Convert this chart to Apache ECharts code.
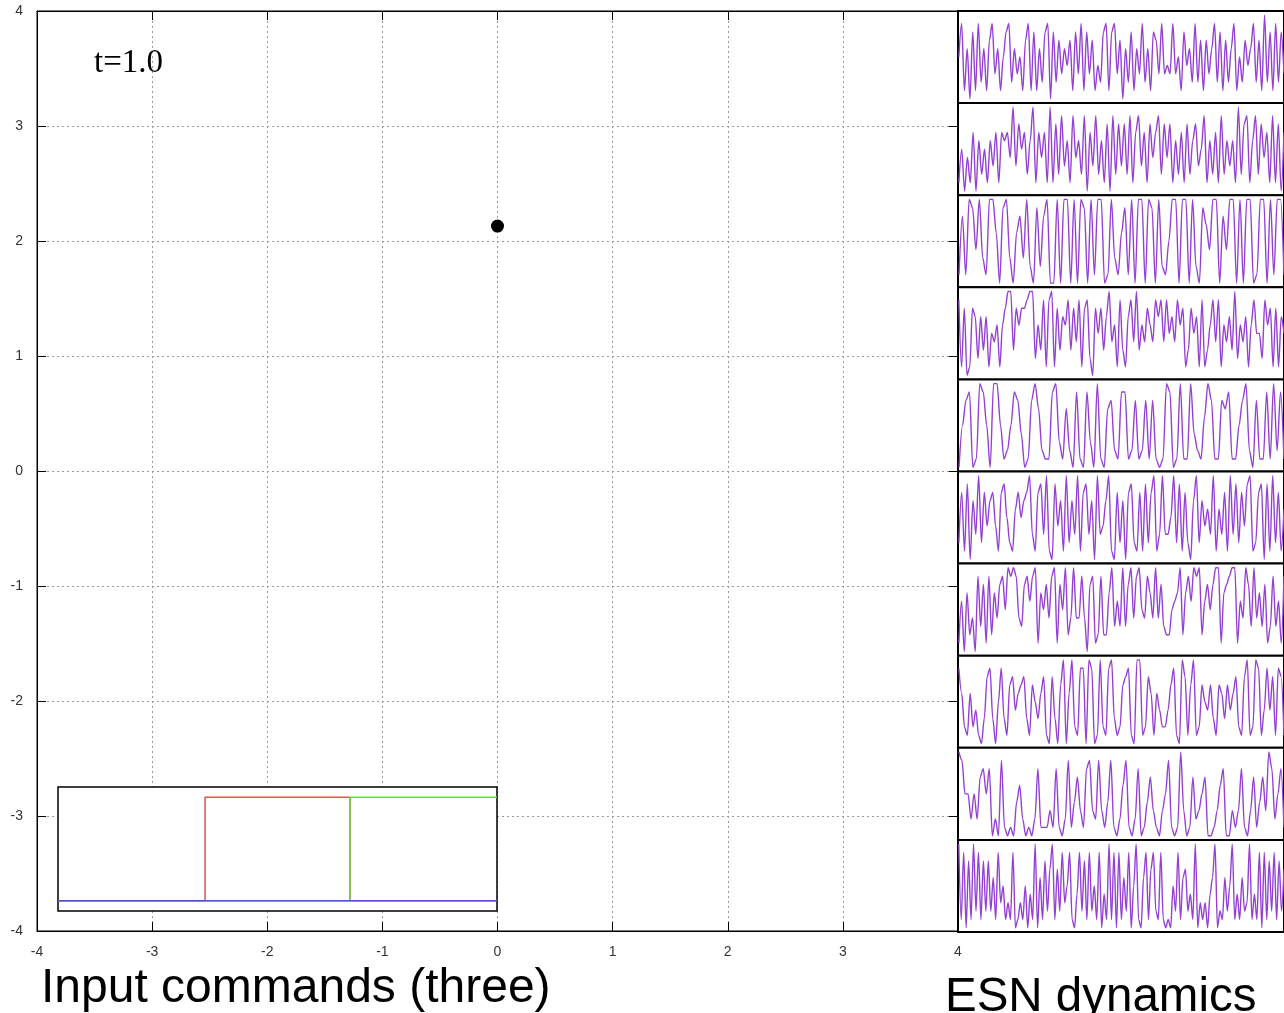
<!DOCTYPE html>
<html>
<head>
<meta charset="utf-8">
<script src="https://cdn.jsdelivr.net/npm/echarts@6/dist/echarts.min.js"></script>
<style>
html,body{margin:0;padding:0;background:#fff;}
#chart{width:1284px;height:1013px;}
</style>
</head>
<body>
<div id="chart"></div>
<script>
// ---- data ----
const xTicks = [-4, -3, -2, -1, 0, 1, 2, 3, 4];
const yTicks = [-4, -3, -2, -1, 0, 1, 2, 3, 4];
const agentPos = [0, 2.13];
const timeLabel = 't=1.0';
const cmdTimes = [0, 0.335, 0.665, 1.0];
const cmdRed = [0, 1, 0];
const cmdGreen = [0, 0, 1];
const cmdBlue = [0, 0, 0];
const p1 = [5,9,1,6,0,8,1,9,2,6,1,7,9,3,6,1,5,8,9,2,6,3,5,1,7,9,1,8,1,6,2,8,9,0,8,2,7,3,6,4,7,1,8,3,9,1,8,3,7,1,4,2,8,9,1,8,9,3,7,0,6,2,8,1,6,3,9,2,6,1,8,7,3,9,3,4,3,9,3,5,1,8,4,6,2,9,2,7,1,7,3,6,9,2,8,1,7,2,6,9,1,5,2,7,4,6,9,2,7,1,10,2,8,1,9,2,8,3];
const p2 = [1,5,0,4,1,7,0,6,2,5,1,6,3,7,1,7,6,7,4,10,3,8,5,7,2,6,10,1,7,4,7,1,10,1,8,2,9,3,6,1,9,4,6,2,9,0,7,3,9,2,6,1,8,0,9,2,8,3,8,2,9,1,7,9,3,7,1,8,4,7,9,2,8,4,8,1,6,2,7,1,8,2,6,8,3,5,9,1,6,2,7,1,9,2,6,3,6,1,10,2,8,9,1,6,9,2,8,4,7,1,9,1,8,0,7];
const p3 = [1,8,1,10,9,4,10,3,1,10,10,6,0,9,10,3,0,6,8,3,10,2,0,9,2,8,10,0,0,10,0,10,10,0,10,0,10,9,0,10,1,10,10,0,1,10,3,1,6,9,1,10,0,10,10,0,10,9,0,10,2,1,5,10,10,0,10,10,0,10,2,0,9,7,4,10,10,0,8,4,10,10,0,10,0,10,10,0,1,10,10,0,10,1,10,10,1];
const p4 = [9,1,8,0,1,8,7,2,7,3,7,1,5,4,6,1,6,8,10,10,3,8,6,8,8,9,10,10,2,6,3,9,1,9,10,1,8,3,7,6,9,3,8,4,9,1,8,9,2,0,8,5,8,3,7,10,4,6,1,9,3,1,7,9,4,10,3,6,4,8,6,4,9,7,9,4,9,5,7,4,9,6,8,1,3,8,5,7,1,9,1,3,6,9,4,9,1,6,4,7,3,10,2,6,4,7,1,6,9,5,5,2,9,6,8,1,8,1,7,5];
const p5 = [0,5,8,9,0,1,10,9,5,0,10,10,5,1,2,5,9,8,4,0,1,8,10,7,2,1,1,9,10,3,1,7,2,0,9,1,0,9,3,0,10,1,0,7,8,2,1,9,9,1,2,8,1,2,8,1,8,1,0,1,10,9,0,1,10,1,1,10,4,2,1,6,10,8,1,1,8,7,9,1,1,5,8,10,2,0,8,1,1,9,1,10,2,9,1];
const p6 = [2,8,1,9,0,7,3,10,2,8,4,7,8,4,1,8,9,5,2,1,6,8,5,7,8,10,3,1,8,9,3,10,1,0,9,4,7,1,10,2,7,3,10,1,8,9,3,7,0,10,3,4,7,10,1,0,8,2,7,0,8,9,2,1,8,1,9,2,8,10,1,3,10,3,3,5,10,2,9,1,8,2,0,7,10,2,7,4,6,3,10,1,6,3,8,1,10,3,9,2,8,4,9,10,1,2,8,9,0,9,1,10,2,8,1,6];
const p7 = [1,6,0,7,2,4,0,9,3,8,1,9,2,7,4,8,9,5,10,9,10,9,4,3,8,9,6,9,10,1,7,5,8,4,9,10,1,8,5,10,2,4,10,4,4,9,4,0,8,9,1,2,9,2,2,7,10,3,6,3,10,3,8,10,4,9,10,5,4,9,7,4,10,4,8,3,2,2,5,6,7,10,2,7,9,6,10,9,10,2,6,8,5,8,10,10,1,7,8,9,10,10,1,6,4,10,8,3,10,4,7,3,8,1,3,9,3,6,1,9];
const p8 = [9,6,2,1,6,2,4,1,0,3,8,9,3,0,5,9,3,1,7,8,4,6,7,8,3,1,7,5,3,6,8,1,0,8,3,0,7,10,0,6,10,2,1,9,9,0,10,9,0,1,10,2,1,9,10,3,1,2,7,8,9,1,0,10,10,1,2,8,6,1,6,4,2,2,4,7,9,1,0,10,8,1,7,10,1,2,7,5,4,7,3,1,7,6,3,7,4,6,8,2,1,8,10,1,2,10,9,1,4,9,4,8,1,9,8,1];
const p9 = [10,9,5,5,2,5,2,7,8,5,8,0,2,0,9,1,0,1,0,4,6,2,0,1,0,2,8,1,1,1,3,1,8,1,0,2,9,1,4,7,3,1,8,9,3,2,9,3,1,4,9,1,0,2,6,9,1,0,2,8,0,1,4,7,3,1,0,3,5,9,1,0,1,10,3,0,1,7,2,3,5,7,0,0,1,3,6,8,0,0,3,1,3,8,1,0,3,7,1,4,7,3,10,8,2,5,8,1];
const p10 = [10,1,9,0,8,1,10,2,9,1,8,2,8,2,6,1,9,3,5,1,3,1,9,0,1,3,1,5,0,4,1,10,0,6,1,8,2,7,10,1,7,2,9,3,5,9,1,0,4,9,2,8,1,9,2,5,1,9,0,4,1,10,1,9,0,9,1,6,2,9,0,5,10,1,0,6,9,1,7,9,2,1,9,1,0,1,0,5,2,9,1,6,7,2,4,1,10,0,3,1,3,0,4,6,10,0,2,1,6,2,5,10,1,4,1,6,2,3,10,1,4,1,9,0,9,1,8,2,9,1,8,2,7];
const esnPanels = [p1, p2, p3, p4, p5, p6, p7, p8, p9, p10];

// ---- build ----
function stepPoints(times, vals) {
  const pts = [];
  for (let i = 0; i < vals.length; i++) {
    pts.push([times[i], vals[i]]);
    pts.push([times[i + 1], vals[i]]);
  }
  return pts;
}

const labelFont = { fontFamily: 'Liberation Sans', fontSize: 14, color: '#333' };
const grids = [];
const xAxes = [];
const yAxes = [];
const series = [];

// main grid (0)
grids.push({ left: 37, top: 11, width: 921, height: 920, show: true, borderColor: '#000', borderWidth: 1, containLabel: false });
xAxes.push({ gridIndex: 0, type: 'value', min: -4, max: 4, interval: 1, position: 'bottom',
  axisLine: { show: true, onZero: false, lineStyle: { color: '#000', width: 1 } },
  axisTick: { show: true, inside: true, length: 9, lineStyle: { color: '#000' } },
  axisLabel: Object.assign({ margin: 14 }, labelFont),
  splitLine: { show: true, lineStyle: { color: '#9a9a9a', type: [2, 3], width: 1 } } });
xAxes.push({ gridIndex: 0, type: 'value', min: -4, max: 4, interval: 1, position: 'top',
  axisLine: { show: true, onZero: false, lineStyle: { color: '#000' } },
  axisTick: { show: true, inside: true, length: 9, lineStyle: { color: '#000' } },
  axisLabel: { show: false }, splitLine: { show: false } });
yAxes.push({ gridIndex: 0, type: 'value', min: -4, max: 4, interval: 1, position: 'left',
  axisLine: { show: true, onZero: false, lineStyle: { color: '#000' } },
  axisTick: { show: true, inside: true, length: 9, lineStyle: { color: '#000' } },
  axisLabel: Object.assign({ margin: 14 }, labelFont),
  splitLine: { show: true, lineStyle: { color: '#9a9a9a', type: [2, 3], width: 1 } } });
yAxes.push({ gridIndex: 0, type: 'value', min: -4, max: 4, interval: 1, position: 'right',
  axisLine: { show: true, onZero: false, lineStyle: { color: '#000' } },
  axisTick: { show: true, inside: true, length: 9, lineStyle: { color: '#000' } },
  axisLabel: { show: false }, splitLine: { show: false } });
series.push({ type: 'scatter', xAxisIndex: 0, yAxisIndex: 0, data: [agentPos], symbolSize: 13,
  itemStyle: { color: '#000', opacity: 1 }, z: 10 });

// inset grid (1)
grids.push({ left: 58, top: 787, width: 439, height: 124, show: true, backgroundColor: '#fff', borderColor: '#000', borderWidth: 1.5, z: 5 });
xAxes.push({ gridIndex: 1, type: 'value', min: 0, max: 1, show: false, z: 6 });
yAxes.push({ gridIndex: 1, type: 'value', min: -0.1, max: 1.1, show: false, z: 6 });
[[cmdRed, '#d9584c'], [cmdGreen, '#5fe03c'], [cmdBlue, '#5a4fcf']].forEach(function (c) {
  series.push({ type: 'line', xAxisIndex: 2, yAxisIndex: 2, data: stepPoints(cmdTimes, c[0]),
    showSymbol: false, symbol: 'none', lineStyle: { color: c[1], width: 1.5 }, z: 7, silent: true });
});

// ESN panels
const panelH = 92.1;
esnPanels.forEach(function (vals, i) {
  const gi = grids.length;
  grids.push({ left: 958, top: 11 + panelH * i, width: 332, height: panelH, show: true, borderColor: '#000', borderWidth: 2, backgroundColor: '#fff' });
  xAxes.push({ gridIndex: gi, type: 'value', min: -0.3, max: vals.length - 1, show: false });
  yAxes.push({ gridIndex: gi, type: 'value', min: -0.5, max: 10.5, show: false });
  series.push({ type: 'line', xAxisIndex: xAxes.length - 1, yAxisIndex: yAxes.length - 1,
    data: vals.map(function (v, k) { return [k, v]; }), showSymbol: false, symbol: 'none',
    smooth: 0.3, smoothMonotone: 'x',
    lineStyle: { color: '#9440d2', width: 1.4 }, silent: true });
});

const chart = echarts.init(document.getElementById('chart'), null, { renderer: 'canvas' });
chart.setOption({
  animation: false,
  backgroundColor: '#fff',
  grid: grids,
  xAxis: xAxes,
  yAxis: yAxes,
  series: series,
  graphic: [
    { type: 'text', left: 94, top: 47, style: { text: timeLabel, font: '33px "Liberation Serif"', fill: '#000' }, z: 20 },
    { type: 'text', left: 41, top: 965, style: { text: 'Input commands (three)', font: '48px "Liberation Sans"', fill: '#000' }, z: 20 },
    { type: 'text', left: 945, top: 974, style: { text: 'ESN dynamics', font: '47.5px "Liberation Sans"', fill: '#000' }, z: 20 }
  ]
});
</script>
</body>
</html>
